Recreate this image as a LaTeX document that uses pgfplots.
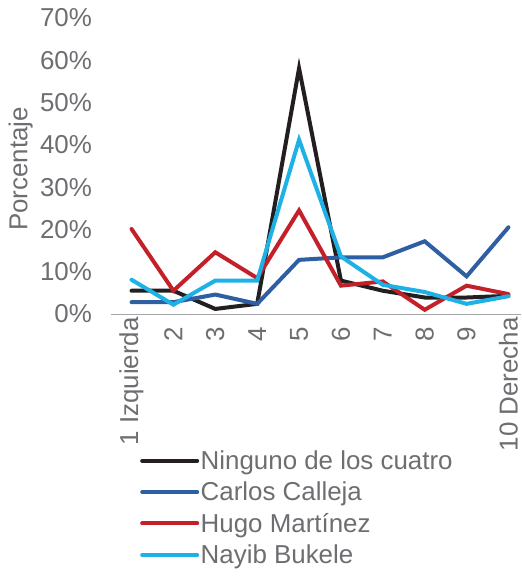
\documentclass[border=0pt]{standalone}
\usepackage{pgfplots}
\pgfplotsset{compat=1.18}
\usepackage{fontspec}
\setmainfont{Liberation Sans}
\definecolor{txt}{HTML}{6D6E71}
\definecolor{cblack}{HTML}{231F20}
\definecolor{cblue}{HTML}{2E5FA3}
\definecolor{cred}{HTML}{C4202A}
\definecolor{ccyan}{HTML}{1EB1E6}
\definecolor{axgray}{HTML}{A6A6A6}
\begin{document}
\begin{tikzpicture}
\useasboundingbox (-110.6bp,-264bp) rectangle (411.4bp,314bp);
\begin{axis}[
  at={(0,0)}, anchor=origin,
  scale only axis,
  width=410bp, height=296bp,
  xmin=0.5, xmax=10.29,
  ymin=0, ymax=70,
  axis x line=bottom,
  axis y line=left,
  axis line style={axgray, line width=1pt, -},
  y axis line style={draw=none},
  xtick={1,...,10},
  xticklabels={1 Izquierda,2\hspace*{10bp},3\hspace*{10bp},4\hspace*{10bp},5\hspace*{10bp},6\hspace*{10bp},7\hspace*{10bp},8\hspace*{10bp},9\hspace*{10bp},10 Derecha},
  xticklabel style={rotate=90, anchor=east, font=\fontsize{26}{31}\selectfont, text=txt, inner sep=0pt, xshift=-3bp},
  major tick length=0pt,
  ytick={0,10,...,70},
  yticklabel={\pgfmathprintnumber{\tick}\%},
  /pgf/number format/assume math mode=true,
  yticklabel style={font=\fontsize{26}{31}\selectfont, text=txt, anchor=east, inner sep=0pt, xshift=-18.5bp},
  ylabel={Porcentaje},
  ylabel style={at={(axis description cs:-0.2195,0.49)}, anchor=center, font=\fontsize{26}{31}\selectfont, text=txt},
  clip=false,
  legend cell align=left,
  legend style={at={(axis description cs:0.0717,-0.456)}, anchor=north west, draw=none, fill=none,
    font=\fontsize{26}{31}\selectfont, text=txt, row sep=8bp, inner sep=0pt,
    nodes={inner sep=1.5bp}},
  legend image code/.code={\draw[#1, line width=4bp, line cap=round] (0bp,0bp) -- (55bp,0bp);},
  every axis plot/.append style={line width=4bp, line join=miter, line cap=round},
]
\addplot[cblack] coordinates {(1,5.5)(2,5.5)(3,1.2)(4,2.4)(5,58.1)(6,7.9)(7,5.5)(8,3.9)(9,3.9)(10,4.3)};
\addlegendentry{Ninguno de los cuatro}
\addplot[cblue] coordinates {(1,2.8)(2,2.8)(3,4.6)(4,2.4)(5,12.8)(6,13.4)(7,13.4)(8,17.2)(9,8.9)(10,20.5)};
\addlegendentry{Carlos Calleja}
\addplot[cred] coordinates {(1,20.1)(2,5.5)(3,14.6)(4,8.5)(5,24.5)(6,6.7)(7,7.7)(8,1.0)(9,6.7)(10,4.7)};
\addlegendentry{Hugo Martínez}
\addplot[ccyan] coordinates {(1,8.1)(2,2.2)(3,7.9)(4,7.9)(5,41.2)(6,13.6)(7,6.9)(8,5.2)(9,2.4)(10,4.2)};
\addlegendentry{Nayib Bukele}
\end{axis}
\end{tikzpicture}
\end{document}
